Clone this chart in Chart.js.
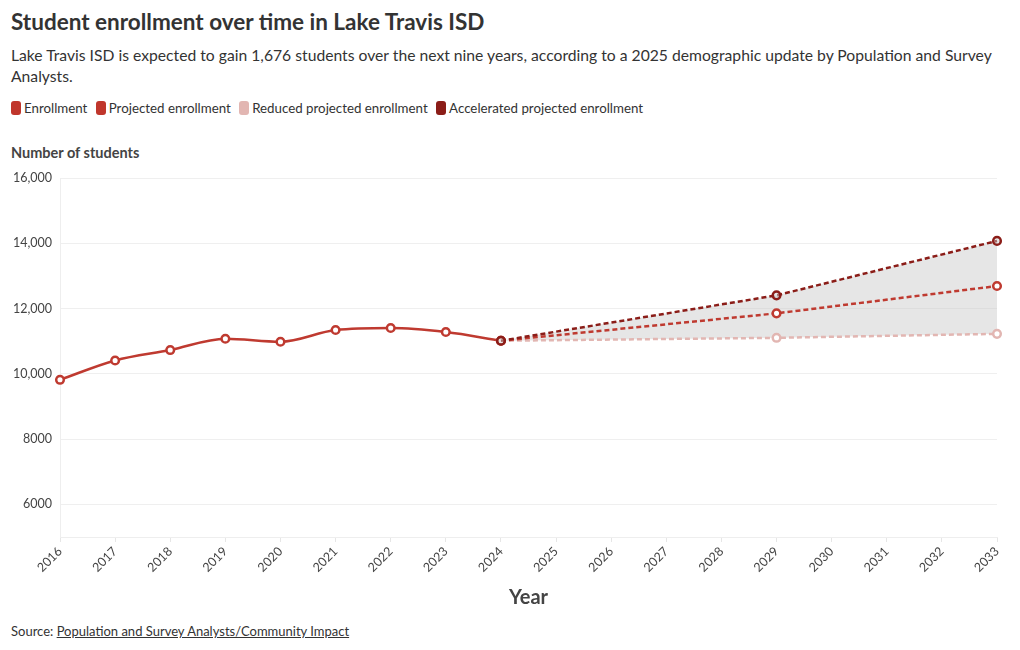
<!DOCTYPE html>
<html>
<head>
<meta charset="utf-8">
<script src="https://cdn.jsdelivr.net/npm/chart.js@4"></script>
<style>
  body { margin: 0; background: #fff; font-family: Lato, sans-serif; color: #333; }
  #wrap { position: relative; width: 1020px; height: 650px; }
  h1 { position: absolute; left: 11px; top: 8px; margin: 0; font-size: 22.5px; font-weight: 700; color: #333; }
  .sub { position: absolute; left: 11px; top: 45px; width: 1000px; margin: 0; font-size: 15.7px; line-height: 21px; color: #333; }
  .legend { position: absolute; left: 11px; top: 100px; font-size: 13.3px; color: #333; }
  .legend span { margin-right: 5px; }
  .legend i { display: inline-block; width: 10px; height: 14px; border-radius: 3px; vertical-align: -2px; margin-right: 3px; }
  .ytitle { position: absolute; left: 11px; top: 144px; font-size: 14.5px; font-weight: 700; color: #444; }
  .source { position: absolute; left: 11px; top: 623px; font-size: 13px; color: #333; }
  .source a { color: #333; }
  #box { position: absolute; left: 0; top: 160px; width: 1020px; height: 450px; }
</style>
</head>
<body>
<div id="wrap">
  <h1>Student enrollment over time in Lake Travis ISD</h1>
  <p class="sub">Lake Travis ISD is expected to gain 1,676 students over the next nine years, according to a 2025 demographic update by Population and Survey Analysts.</p>
  <div class="legend">
    <span><i style="background:#c0362c"></i>Enrollment</span>
    <span><i style="background:#c0362c"></i>Projected enrollment</span>
    <span><i style="background:#e2b6b2"></i>Reduced projected enrollment</span>
    <span><i style="background:#8b1d18"></i>Accelerated projected enrollment</span>
  </div>
  <div class="ytitle">Number of students</div>
  <div id="box"><canvas id="chart"></canvas></div>
  <div class="source">Source: <a href="#">Population and Survey Analysts/Community Impact</a></div>
</div>
<script>
// datos
const years = [2016, 2017, 2018, 2019, 2020, 2021, 2022, 2023, 2024]
const enrollment = [9816, 10409, 10728, 11075, 10983, 11342, 11404, 11281, 11014]

const projYears = [2024, 2029, 2033]
const projected = [11014, 11853, 12690]
const reduced = [11014, 11103, 11225]
const accelerated = [11014, 12404, 14073]

const yTicks = [6000, 8000, 10000, 12000, 14000, 16000]

const toPoints = (xs, ys) => xs.map((x, i) => ({ x: x, y: ys[i] }))

const redColor = "#bf3a30"
const lightColor = "#e2b6b2"
const darkColor = "#8b1d18"

const ctx = document.querySelector("#chart").getContext("2d")

const chart = new Chart(ctx, {
    type: "line",
    data: {
        datasets: [
            {
                label: "Enrollment",
                data: toPoints(years, enrollment),
                borderColor: redColor,
                pointBorderColor: redColor,
                borderWidth: 2.5,
                cubicInterpolationMode: "monotone",
                clip: false,
                order: 3,
            },
            {
                label: "Projected enrollment",
                data: toPoints(projYears, projected),
                borderColor: redColor,
                pointBorderColor: redColor,
                borderDash: [5, 3],
                borderWidth: 2.5,
                clip: false,
                order: 1,
            },
            {
                label: "Reduced projected enrollment",
                data: toPoints(projYears, reduced),
                borderColor: lightColor,
                pointBorderColor: lightColor,
                borderDash: [5, 3],
                borderWidth: 2.5,
                clip: false,
                order: 2,
            },
            {
                label: "Accelerated projected enrollment",
                data: toPoints(projYears, accelerated),
                borderColor: darkColor,
                pointBorderColor: darkColor,
                borderDash: [5, 3],
                borderWidth: 2.5,
                fill: 2,
                backgroundColor: "rgba(200,200,200,0.45)",
                clip: false,
                order: 0,
            },
        ]
    },
    options: {
        responsive: true,
        maintainAspectRatio: false,
        animation: false,
        layout: { padding: { top: 18, right: 23, left: 0, bottom: 0 } },
        elements: {
            point: { radius: 3.8, borderWidth: 2.2, backgroundColor: "#fff", hoverRadius: 4 },
            line: { tension: 0 },
        },
        plugins: {
            legend: { display: false },
            tooltip: { enabled: false },
            filler: { drawTime: "beforeDatasetsDraw" },
        },
        scales: {
            x: {
                type: "linear",
                min: 2016,
                max: 2033,
                afterBuildTicks: (scale) => {
                    const t = []
                    for (let y = 2016; y <= 2033; y++) t.push({ value: y })
                    scale.ticks = t
                },
                afterFit: (scale) => { scale.height = 73 },
                ticks: {
                    autoSkip: false,
                    minRotation: 45,
                    maxRotation: 45,
                    color: "#444",
                    font: { family: "Lato", size: 12.5 },
                    padding: 2,
                    callback: (v) => String(v),
                },
                grid: { drawOnChartArea: false, drawTicks: true, tickLength: 5, color: "#e6e6e6" },
                border: { color: "#eeeeee" },
                title: {
                    display: true,
                    text: "Year",
                    color: "#444",
                    font: { family: "Lato", size: 20, weight: "bold" },
                    padding: { top: 2, bottom: 0 },
                },
            },
            y: {
                min: 5000,
                max: 16000,
                afterBuildTicks: (scale) => {
                    scale.ticks = yTicks.map((v) => ({ value: v }))
                },
                afterFit: (scale) => { scale.width = 60 },
                ticks: {
                    color: "#444",
                    font: { family: "Lato", size: 12.5 },
                    padding: 8,
                    callback: (v) => v >= 10000 ? v.toLocaleString("en-US") : String(v),
                },
                grid: { color: "#efefef", drawTicks: false },
                border: { color: "#eeeeee" },
            },
        },
    },
})
</script>
</body>
</html>
